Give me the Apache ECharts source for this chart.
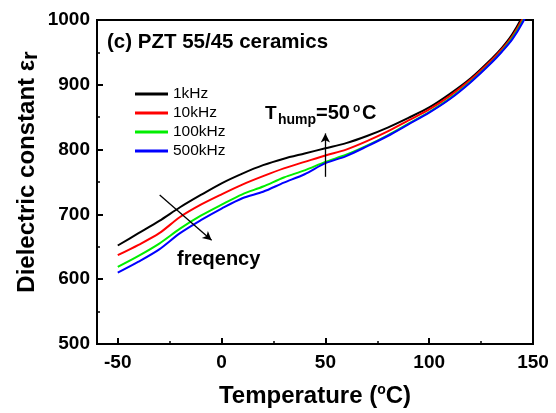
<!DOCTYPE html>
<html><head><meta charset="utf-8">
<script src="https://cdn.jsdelivr.net/npm/echarts@6/dist/echarts.min.js"></script>
<style>html,body{margin:0;padding:0;background:#fff}#c{width:556px;height:413px}</style>
</head><body><div id="c"></div>
<script>
const temps = [-50,-40,-30,-20,-10,0,10,20,30,40,50,60,70,80,90,100,110,120,130,135,140,145,150];
const eps1k   = [652,671,690,711,730,748,763,776,786,794,802,810,821,834,849,865,886,910,940,957,978,1006,1040];
const eps10k  = [637,653,671,696,715,731,746,759,771,781,791,800,813,828,845,862,883,908,938,955,975,1002,1036];
const eps100k = [619,636,655,678,698,715,731,743,757,768,781,792,806,822,840,858,879,905,935,952,972,998,1032];
const eps500k = [610,627,646,671,691,709,725,735,749,762,779,790,805,821,839,857,878,904,934,951,970,996,1030];
const seriesNames = ['1kHz','10kHz','100kHz','500kHz'];
const seriesColors = ['#000000','#ff0000','#00ee00','#0000ff'];
const xTicks = [-50,0,50,100,150];
const xMinorTicks = [-25,25,75,125];

const FONT = 'Liberation Sans, Arial, sans-serif';
const allVals = [eps1k, eps10k, eps100k, eps500k];
const series = allVals.map((vals, i) => ({
  name: seriesNames[i], type: 'line', xAxisIndex: 0, yAxisIndex: 0,
  data: temps.map((t, j) => [t, vals[j]]),
  showSymbol: false, smooth: 0.3, clip: true,
  lineStyle: {color: seriesColors[i], width: 2},
  itemStyle: {color: seriesColors[i]},
  animation: false
}));
series[0].markLine = {
  silent: true, animation: false, symbol: ['none','arrow'], symbolSize: [7,9],
  label: {show: false},
  lineStyle: {color: '#000', width: 1.3, type: 'solid'},
  data: [
    [{coord: [50, 758]}, {coord: [50, 825]}],
    [{coord: [-29.8, 730]}, {coord: [-4.8, 660]}]
  ]
};

const chart = echarts.init(document.getElementById('c'), null, {renderer: 'canvas'});
chart.setOption({
  animation: false,
  backgroundColor: '#fff',
  grid: {left: 97, right: 23, top: 20, bottom: 69, show: true, borderColor: '#000', borderWidth: 2, backgroundColor: 'transparent'},
  legend: {
    orient: 'vertical', left: 135, top: 86, padding: 0, itemGap: 3,
    itemWidth: 33, itemHeight: 3, icon: 'rect',
    textStyle: {fontFamily: FONT, fontSize: 15.5, color: '#000', lineHeight: 15.5},
    data: seriesNames
  },
  xAxis: [{
    type: 'value', min: -60, max: 150, position: 'bottom',
    axisLine: {show: true, onZero: false, lineStyle: {color: '#000', width: 2}},
    axisTick: {show: true, inside: true, length: 6, lineStyle: {color: '#000', width: 2}, customValues: xTicks},
    axisLabel: {show: true, margin: 9, color: '#000', fontFamily: FONT, fontWeight: 'bold', fontSize: 19, customValues: xTicks, formatter: v => String(v)},
    splitLine: {show: false}
  }, {
    type: 'value', min: -60, max: 150, position: 'bottom', gridIndex: 0,
    axisLine: {show: false, onZero: false},
    axisTick: {show: true, inside: true, length: 3, lineStyle: {color: '#000', width: 1.5}, customValues: xMinorTicks},
    axisLabel: {show: false, customValues: xMinorTicks},
    splitLine: {show: false}
  }],
  yAxis: [{
    type: 'value', min: 500, max: 1000, interval: 100,
    axisLine: {show: true, onZero: false, lineStyle: {color: '#000', width: 2}},
    axisTick: {show: true, inside: true, length: 6, lineStyle: {color: '#000', width: 2}},
    minorTick: {show: true, splitNumber: 2, length: 3, lineStyle: {color: '#000', width: 1.5}},
    axisLabel: {show: true, margin: 7, color: '#000', fontFamily: FONT, fontWeight: 'bold', fontSize: 19, formatter: v => String(v)},
    splitLine: {show: false}
  }],
  graphic: [
    {type: 'text', left: 107, top: 32, style: {text: '(c) PZT 55/45 ceramics', fontFamily: FONT, fontWeight: 'bold', fontSize: 20.5, fill: '#000'}},
    {type: 'text', x: 265, y: 123, style: {text: 'T', fontFamily: FONT, fontWeight: 'bold', fontSize: 19, fill: '#000', textVerticalAlign: 'bottom'}},
    {type: 'text', x: 278, y: 127, style: {text: 'hump', fontFamily: FONT, fontWeight: 'bold', fontSize: 14, fill: '#000', textVerticalAlign: 'bottom'}},
    {type: 'text', x: 316, y: 123, style: {text: '=50', fontFamily: FONT, fontWeight: 'bold', fontSize: 20, fill: '#000', textVerticalAlign: 'bottom'}},
    {type: 'text', x: 353, y: 115, style: {text: 'o', fontFamily: FONT, fontWeight: 'bold', fontSize: 12, fill: '#000', textVerticalAlign: 'bottom'}},
    {type: 'text', x: 362, y: 123, style: {text: 'C', fontFamily: FONT, fontWeight: 'bold', fontSize: 20, fill: '#000', textVerticalAlign: 'bottom'}},
    {type: 'text', x: 177, y: 259, style: {text: 'freqency', fontFamily: FONT, fontWeight: 'bold', fontSize: 20, fill: '#000', textVerticalAlign: 'middle'}},
    {type: 'text', x: 315, y: 396, style: {
      text: '{a|Temperature (}{s|o}{a|C)}', textAlign: 'center', textVerticalAlign: 'middle',
      rich: {a: {fontFamily: FONT, fontWeight: 'bold', fontSize: 24, color: '#000'},
             s: {fontFamily: FONT, fontWeight: 'bold', fontSize: 14, color: '#000', padding: [0,0,11,0]}}
    }},
    {type: 'text', x: 27, y: 172, rotation: Math.PI/2, style: {
      text: '{a|Dielectric constant ε}{s|r}', textAlign: 'center', textVerticalAlign: 'middle',
      rich: {a: {fontFamily: FONT, fontWeight: 'bold', fontSize: 24, color: '#000'},
             s: {fontFamily: FONT, fontWeight: 'bold', fontSize: 22, color: '#000', padding: [8,0,0,0]}}
    }}
  ],
  series: series
});
</script></body></html>
